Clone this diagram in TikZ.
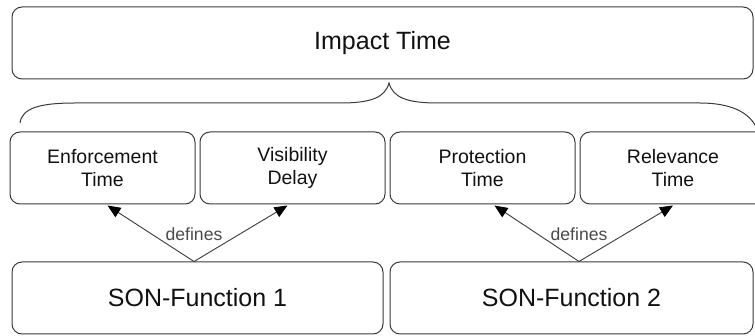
\documentclass[tikz,border=0pt]{standalone}
\usepackage{fontspec}
\setmainfont{Liberation Sans}
\usetikzlibrary{arrows.meta,calc}
\definecolor{edge}{HTML}{3A3A3A}
\definecolor{ink}{HTML}{111111}
\definecolor{lbl}{HTML}{4A4A4A}
\begin{document}
\begin{tikzpicture}[x=1pt,y=-1pt,
  box/.style={draw=edge,line width=1pt,rounded corners=10pt,text=ink,
    inner sep=0pt,minimum height=72pt,align=center},
  bigtext/.style={font=\fontsize{25}{29}\selectfont},
  smalltext/.style={font=\fontsize{19.5}{23}\selectfont},
  defarrow/.style={draw=edge,line width=0.9pt,
    -{Triangle[length=13pt,width=11pt,color=black]}},
  deflabel/.style={text=lbl,font=\fontsize{17.6}{20}\selectfont,inner sep=1pt}]
\useasboundingbox (0,0) rectangle (755,336);
\begin{scope}
\clip (0,0) rectangle (755,336);

% overall impact time
\node[box,bigtext,minimum width=741pt] (impact) at (382.5,43) {Impact Time};

% the four component times
\node[box,smalltext,minimum width=185pt] (enf) at (102.5,168) {Enforcement\\Time};
\node[box,smalltext,minimum width=185pt] (vis) at (292.5,168) {Visibility\\Delay};
\node[box,smalltext,minimum width=185pt] (prot) at (482.5,168) {Protection\\Time};
\node[box,smalltext,minimum width=186pt] (rel) at (673,168) {Relevance\\Time};

% the SON functions
\node[box,bigtext,minimum width=371pt] (son1) at (197.5,298) {SON-Function 1};
\node[box,bigtext,minimum width=363pt] (son2) at (571.5,298) {SON-Function 2};

% curly brace grouping the components under the impact time
\coordinate (brL) at (20,123);
\coordinate (brM) at (389,83);
\coordinate (brR) at (757,129);
\draw[edge,line width=1pt]
  (brL) .. controls (22,108) and (40,103) .. (75,103)
  -- (340,103) .. controls (370,103) and (385,98) .. (brM)
  .. controls (393,98) and (408,103) .. (438,103)
  -- (700,103) .. controls (730,103) and (750,112) .. (brR);

% "defines" relations
\coordinate (s1) at ($(son1.north)+(-3.5,0)$);
\coordinate (s2) at ($(son2.north)+(7.5,0)$);
\draw[defarrow] (s1) -- ($(enf.south)+(5,1)$);
\draw[defarrow] (s1) -- ($(vis.south)+(-5,1)$);
\draw[defarrow] (s2) -- ($(prot.south)+(12,1)$);
\draw[defarrow] (s2) -- ($(rel.south)+(0,1)$);
\node[deflabel] (d1) at ($(s1)+(0,-27)$) {defines};
\node[deflabel] (d2) at ($(s2)+(0,-27)$) {defines};
\end{scope}
\end{tikzpicture}
\end{document}
